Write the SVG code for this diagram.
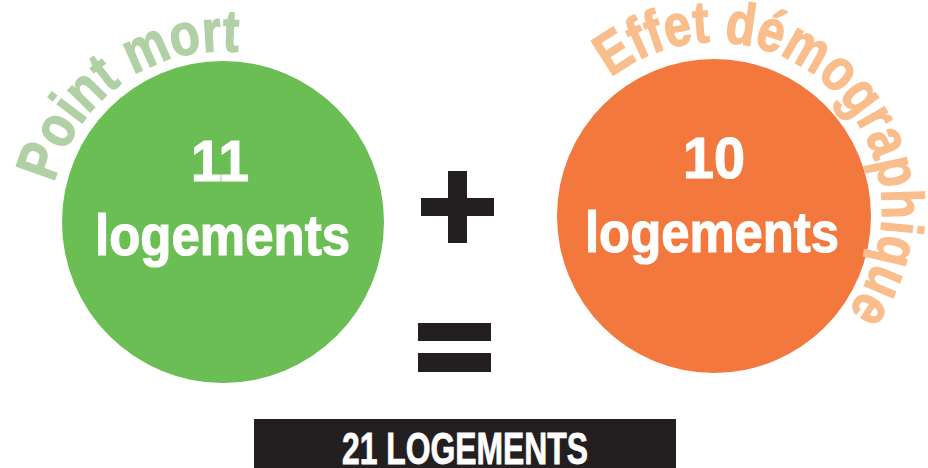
<svg xmlns="http://www.w3.org/2000/svg" width="928" height="468" viewBox="0 0 928 468">
<style>
.t{font-family:"Liberation Sans",Arial,sans-serif;font-weight:bold}
.w{fill:#ffffff;text-anchor:middle;stroke:#ffffff;stroke-width:1.2}
.op{fill:#231f20}
.ag{fill:#b2d0a6;stroke:#b2d0a6;stroke-width:1.4}
.ao{fill:#fabd8c;stroke:#fabd8c;stroke-width:1.4}
</style>
<defs>
<path id="arcG" d="M54.2,182.9 A174,174 0 0 1 356.3,113.2" fill="none"/>
<path id="arcO" d="M610.6,77.6 A168,168 0 1 1 798,355.5" fill="none"/>
</defs>
<rect width="928" height="468" fill="#ffffff"/>
<g id="point-mort">
<circle cx="223" cy="222" r="161" fill="#6abe53"/>
<text class="t ag" font-size="59"><textPath href="#arcG" textLength="246" lengthAdjust="spacingAndGlyphs">Point mort</textPath></text>
<text class="t w" x="220" y="181" font-size="58" textLength="58" lengthAdjust="spacingAndGlyphs">11</text>
<text class="t w" x="222.5" y="255" font-size="58" textLength="255" lengthAdjust="spacingAndGlyphs">logements</text>
</g>
<g id="effet-demographique">
<circle cx="714" cy="216" r="157" fill="#f3783e"/>
<text class="t ao" font-size="59"><textPath href="#arcO" textLength="484" lengthAdjust="spacingAndGlyphs">Effet démographique</textPath></text>
<text class="t w" x="714" y="178" font-size="58" textLength="62" lengthAdjust="spacingAndGlyphs">10</text>
<text class="t w" x="712" y="252" font-size="58" textLength="254" lengthAdjust="spacingAndGlyphs">logements</text>
</g>
<g id="operators">
<rect class="op" x="448" y="171" width="19" height="72"/>
<rect class="op" x="421" y="198" width="73" height="18"/>
<rect class="op" x="418" y="323" width="73" height="18"/>
<rect class="op" x="418" y="353" width="73" height="19"/>
</g>
<g id="total">
<rect x="254" y="419" width="422" height="49" fill="#231f20"/>
<text class="t w" x="465" y="464" font-size="45" textLength="246" lengthAdjust="spacingAndGlyphs" style="stroke-width:0.8">21 LOGEMENTS</text>
</g>
</svg>
